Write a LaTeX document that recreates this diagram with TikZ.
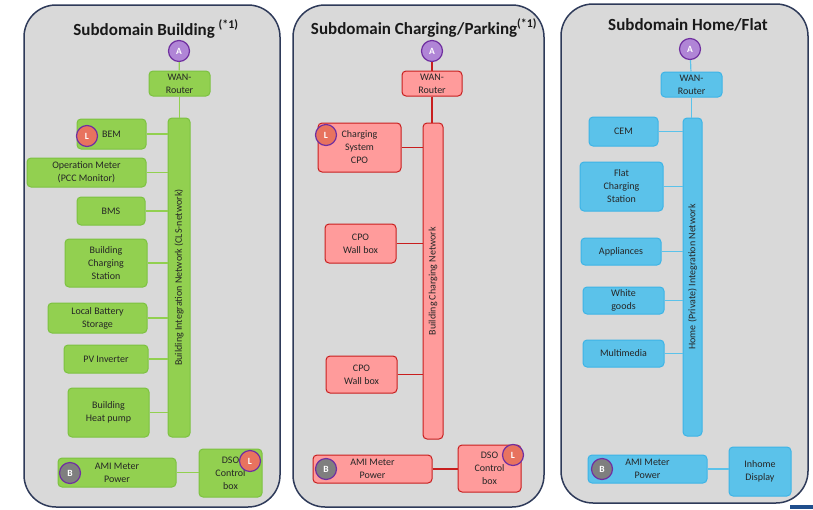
\documentclass[tikz,border=0pt]{standalone}
\usepackage{fontspec}
\setmainfont{Carlito}
\usepackage{tikz}
\usepackage{xcolor}
\definecolor{panelgray}{HTML}{D9D9D9}
\definecolor{paneledge}{HTML}{2E3A59}
\definecolor{bldfill}{HTML}{92D050}
\definecolor{bldedge}{HTML}{7CC240}
\definecolor{parkfill}{HTML}{FF9B9B}
\definecolor{parkedge}{HTML}{C81E1E}
\definecolor{homefill}{HTML}{5BC2EA}
\definecolor{homeedge}{HTML}{3DB4E6}
\definecolor{markerpurple}{HTML}{7030A0}
\definecolor{markerlilac}{HTML}{B085D6}
\definecolor{markersalmon}{HTML}{E8735F}
\definecolor{markergray}{HTML}{7F7F7F}
\definecolor{footerblue}{HTML}{1F4E8C}
\tikzset{
    sub-panel/.style = {draw=paneledge, fill=panelgray, line width=1.5pt, rounded corners=32pt},
    panel-title/.style = {font=\fontsize{17}{20}\selectfont\bfseries, text=black!90},
    box-size/.style 2 args = {minimum width=#1pt, minimum height=#2pt},
    box-text/.style = {rectangle, rounded corners=4pt, line width=1pt, inner sep=0pt, align=center, text=black!85, font=\fontsize{10}{13}\selectfont},
    bld-box/.style = {box-text, fill=bldfill, draw=bldedge},
    park-box/.style = {box-text, fill=parkfill, draw=parkedge},
    home-box/.style = {box-text, fill=homefill, draw=homeedge},
    bld-link/.style = {draw=bldfill, line width=1.2pt},
    park-link/.style = {draw=parkedge, line width=1.2pt},
    home-link/.style = {draw=homefill, line width=1.2pt},
    marker/.style = {circle, draw=markerpurple, line width=1.2pt, minimum size=21pt, inner sep=0pt, text=white, font=\fontsize{9.5}{9.5}\selectfont\bfseries},
    marker-a/.style = {marker, fill=markerlilac},
    marker-l/.style = {marker, fill=markersalmon},
    marker-b/.style = {marker, fill=markergray},
}
\begin{document}
\begin{tikzpicture}[x=1pt, y=-1pt]
\useasboundingbox (0,0) rectangle (813,509);
\fill[white] (0,0) rectangle (813,509);

\draw[sub-panel] (24,5) rectangle (280,507);
\draw[sub-panel] (293,5) rectangle (544,507);
\draw[sub-panel] (561,4) rectangle (808,503);
\fill[footerblue] (790,505) rectangle (813,509);

\node[panel-title] (title-bld) at (156,29) {Subdomain Building \textsuperscript{(*1)}};
\node[panel-title] (title-park) at (424,28) {Subdomain Charging/Parking\textsuperscript{(*1)}};
\node[panel-title] (title-home) at (688,25) {Subdomain Home/Flat};

% building
\node[bld-box, box-size={61}{25}] (router-bld) at (179.5,83.5) {WAN-\\Router};
\node[bld-box, box-size={319}{22}, rotate=90] (bus-bld) at (179,277.5) {Building Integration Network (CLS-network)};
\node[bld-box, box-size={69}{30}] (bem) at (111.5,134) {BEM};
\node[bld-box, box-size={119}{29}] (op-meter) at (86.5,172.5) {Operation Meter\\(PCC Monitor)};
\node[bld-box, box-size={68}{28}] (bms) at (111,211) {BMS};
\node[bld-box, box-size={82}{48}] (bld-charging) at (106,263) {Building\\Charging\\Station};
\node[bld-box, box-size={99}{30}] (battery) at (97.5,318) {Local Battery\\Storage};
\node[bld-box, box-size={84}{28}] (pv) at (106,359) {PV Inverter};
\node[bld-box, box-size={81}{49}] (heat-pump) at (108.5,412.5) {Building\\Heat pump};
\node[bld-box, box-size={118}{29}] (ami-bld) at (117,472.5) {AMI Meter\\Power};
\node[bld-box, box-size={63}{48}] (dso-bld) at (230.5,473) {DSO\\Control\\box};
\node[marker-a] (a-bld) at (179,51) {A};
\node[marker-l] (l-bem) at (87,136) {L};
\node[marker-b] (b-bld) at (70,473) {B};
\node[marker-l] (l-dso-bld) at (250,461) {L};
\draw[bld-link] (a-bld) -- (router-bld);
\draw[bld-link] (router-bld.south) -- (router-bld.south |- bus-bld.east);
\foreach \dev in {bem, op-meter, bms, bld-charging, battery, pv, heat-pump}
    \draw[bld-link] (\dev.east) -- (\dev.east -| bus-bld.north);
\draw[bld-link] (ami-bld.east) -- (ami-bld.east -| dso-bld.west);

% charging / parking
\node[park-box, box-size={60}{25}] (router-park) at (432,83.5) {WAN-\\Router};
\node[park-box, box-size={316}{20}, rotate=90] (bus-park) at (433,281) {Building Charging Network};
\node[park-box, box-size={83}{49}] (cpo-system) at (359.5,147.5) {Charging\\System\\CPO};
\node[park-box, box-size={71}{39}] (wallbox-a) at (360.5,243.5) {CPO\\Wall box};
\node[park-box, box-size={71}{37}] (wallbox-b) at (361.5,374.5) {CPO\\Wall box};
\node[park-box, box-size={119}{28}] (ami-park) at (372.5,469) {AMI Meter\\Power};
\node[park-box, box-size={63}{47}] (dso-park) at (489.5,468.5) {DSO\\Control\\box};
\node[marker-a] (a-park) at (432,51) {A};
\node[marker-l] (l-cpo) at (326,135) {L};
\node[marker-b] (b-park) at (326,469) {B};
\node[marker-l] (l-dso-park) at (513,455) {L};
\draw[park-link] (a-park) -- (router-park);
\draw[park-link] (router-park.south) -- (router-park.south |- bus-park.east);
\foreach \dev in {cpo-system, wallbox-a, wallbox-b}
    \draw[park-link] (\dev.east) -- (\dev.east -| bus-park.north);
\draw[park-link] (ami-park.east) -- (ami-park.east -| dso-park.west);

% home / flat
\node[home-box, box-size={61}{25}] (router-home) at (691.5,84.5) {WAN-\\Router};
\node[home-box, box-size={318}{19}, rotate=90] (bus-home) at (692.5,277) {Home (Private) Integration Network};
\node[home-box, box-size={69}{29}] (cem) at (623.5,131.5) {CEM};
\node[home-box, box-size={83}{49}] (flat-charging) at (621.5,186.5) {Flat\\Charging\\Station};
\node[home-box, box-size={80}{27}] (appliances) at (621,251.5) {Appliances};
\node[home-box, box-size={81}{27}] (white-goods) at (623.5,300.5) {White\\goods};
\node[home-box, box-size={81}{27}] (multimedia) at (623.5,353.5) {Multimedia};
\node[home-box, box-size={119}{28}] (ami-home) at (647.5,469) {AMI Meter\\Power};
\node[home-box, box-size={62}{49}] (inhome) at (760,471.5) {Inhome\\Display};
\node[marker-a] (a-home) at (690,49) {A};
\node[marker-b] (b-home) at (602,469) {B};
\draw[home-link] (a-home) -- (router-home);
\draw[home-link] (router-home.south) -- (router-home.south |- bus-home.east);
\foreach \dev in {cem, flat-charging, appliances, white-goods, multimedia}
    \draw[home-link] (\dev.east) -- (\dev.east -| bus-home.north);
\draw[home-link] (ami-home.east) -- (ami-home.east -| inhome.west);
\end{tikzpicture}
\end{document}
